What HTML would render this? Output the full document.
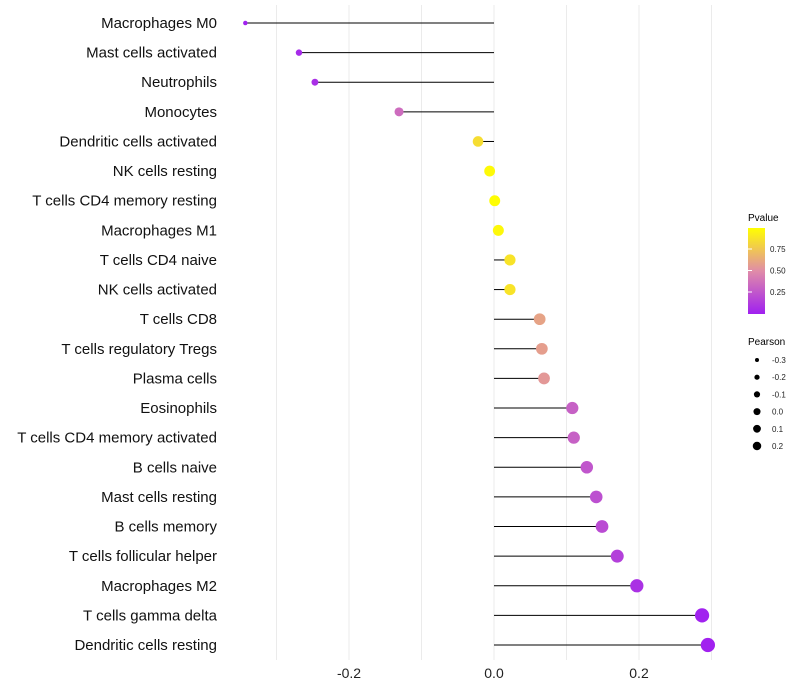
<!DOCTYPE html>
<html><head><meta charset="utf-8"><style>
html,body{margin:0;padding:0;background:#fff;}
svg{display:block;font-family:"Liberation Sans",sans-serif;}
</style></head><body>
<svg id="chart" width="800" height="700">
<defs><linearGradient id="pg" x1="0" y1="1" x2="0" y2="0">
<stop offset="0" stop-color="#A020F0"/><stop offset="0.5" stop-color="#E08CA8"/><stop offset="1" stop-color="#FFFF00"/>
</linearGradient></defs>
<g id="grid"></g>
<g id="marks"></g>
<g id="legend">
<text x="748" y="221" font-size="10" fill="#000">Pvalue</text>
<rect x="748" y="228" width="17" height="86" fill="url(#pg)"/>
</g>
</svg>
<script>
const categories=["Macrophages M0","Mast cells activated","Neutrophils","Monocytes","Dendritic cells activated","NK cells resting","T cells CD4 memory resting","Macrophages M1","T cells CD4 naive","NK cells activated","T cells CD8","T cells regulatory  Tregs ","Plasma cells","Eosinophils","T cells CD4 memory activated","B cells naive","Mast cells resting","B cells memory","T cells follicular helper","Macrophages M2","T cells gamma delta","Dendritic cells resting"];
const pearson=[-0.343,-0.269,-0.247,-0.131,-0.022,-0.006,0.001,0.006,0.022,0.022,0.063,0.066,0.069,0.108,0.110,0.128,0.141,0.149,0.170,0.197,0.287,0.295];
const pvalue=[0.01,0.05,0.07,0.35,0.85,0.98,0.99,0.97,0.88,0.88,0.6,0.58,0.55,0.3,0.3,0.25,0.22,0.2,0.15,0.08,0.01,0.005];
const xTicks=[-0.2,0.0,0.2];
const xTickLabels=["-0.2","0.0","0.2"];
const pTicks=[0.25,0.5,0.75];
const pTickLabels=["0.25","0.50","0.75"];
const sizeBreaks=[-0.3,-0.2,-0.1,0.0,0.1,0.2];
const sizeLabels=["-0.3","-0.2","-0.1","0.0","0.1","0.2"];

const NS="http://www.w3.org/2000/svg";
const x=v=>494+v*725;
const y=i=>23+i*(622/21);
const r=v=>Math.sqrt(Math.max(0,5+72*(v+0.343)));
const rl=v=>Math.sqrt(4+28*(v+0.3));
function lerp(a,b,t){return Math.round(a+(b-a)*t);}
function col(p){const s=[[160,32,240],[224,140,168],[255,255,0]];let t=p*2,a=s[0],b=s[1];if(t>1){t-=1;a=s[1];b=s[2];}return `rgb(${lerp(a[0],b[0],t)},${lerp(a[1],b[1],t)},${lerp(a[2],b[2],t)})`;}
function mk(tag,attrs,parent){const e=document.createElementNS(NS,tag);for(const k in attrs)e.setAttribute(k,attrs[k]);parent.appendChild(e);return e;}
const grid=document.getElementById('grid'),marks=document.getElementById('marks'),leg=document.getElementById('legend');
for(let v=-0.3;v<=0.31;v+=0.1){const gl=mk('line',{x1:x(v),x2:x(v),y1:5,y2:660,stroke:"#ebebeb","stroke-width":1},grid);

}
xTicks.forEach((v,i)=>{const t=mk('text',{x:x(v),y:678,"font-size":14,"text-anchor":"middle",fill:"#222"},grid);t.textContent=xTickLabels[i];

});
categories.forEach((c,i)=>{
const t=mk('text',{x:217,y:y(i)+5,"font-size":15,"text-anchor":"end",fill:"#111"},marks);t.textContent=c;


const l=mk('line',{x1:x(0),x2:x(pearson[i]),y1:y(i),y2:y(i),stroke:"#000","stroke-width":1},marks);


const d=mk('circle',{cx:x(pearson[i]),cy:y(i),r:r(pearson[i]),fill:col(pvalue[i])},marks);


});
pTicks.forEach((p,i)=>{const yy=313.5-p*86;
const t=mk('text',{x:770,y:yy+3,"font-size":8,fill:"#222"},leg);t.textContent=pTickLabels[i];


const tk=mk('line',{x1:748,x2:752,y1:yy,y2:yy,stroke:"#fff"},leg);

});
const st=mk('text',{x:748,y:345,"font-size":10,fill:"#000"},leg);st.textContent="Pearson";


sizeBreaks.forEach((v,i)=>{const yy=360+i*17.2;
const c=mk('circle',{cx:757,cy:yy,r:rl(v),fill:"#000"},leg);


const t=mk('text',{x:772,y:yy+3,"font-size":8,fill:"#222"},leg);t.textContent=sizeLabels[i];

});
</script>
</body></html>
